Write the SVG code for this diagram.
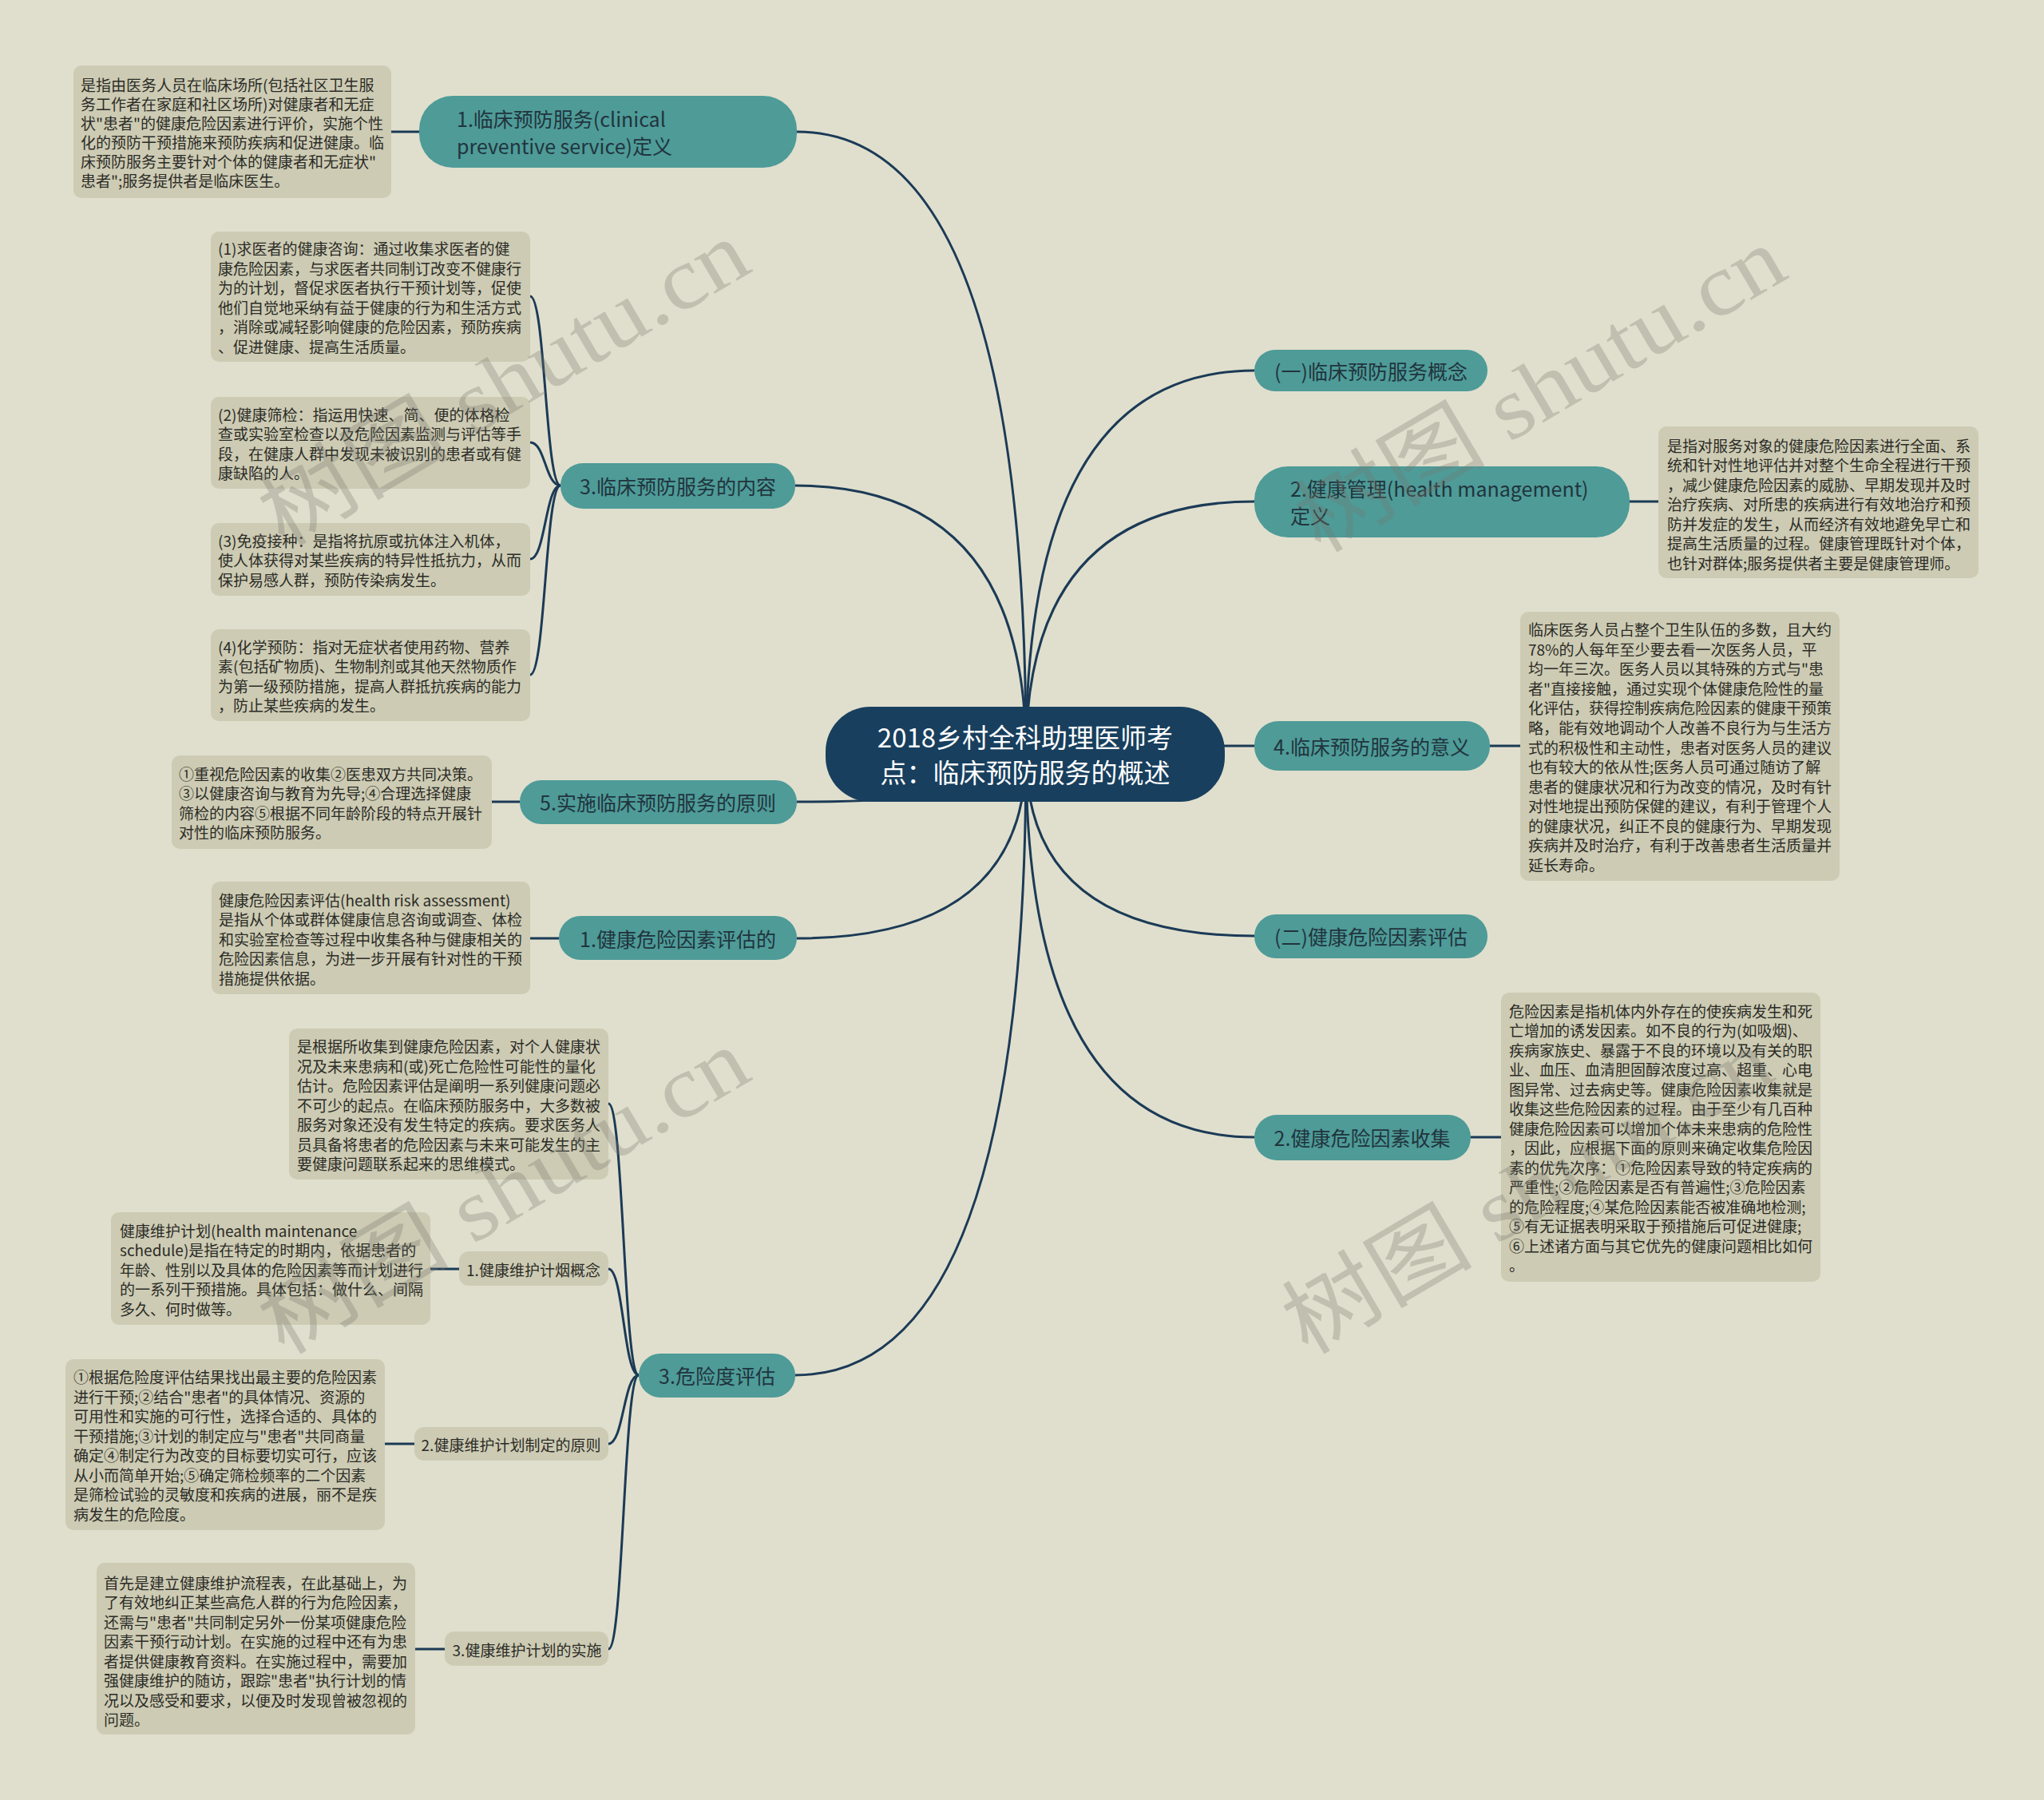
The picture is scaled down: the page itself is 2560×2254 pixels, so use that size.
<svg xmlns="http://www.w3.org/2000/svg" width="2560" height="2254" viewBox="0 0 2560 2254">
<style>
.bg{fill:#e0dfcd}
.note rect{fill:#cdcbb3}
.note text{font-family:"Noto Sans CJK SC","Liberation Sans",sans-serif;font-size:19px;fill:#2b2b27;dominant-baseline:central}
.t1 rect{fill:#4e9b98}
.t1 text{font-family:"Noto Sans CJK SC","Liberation Sans",sans-serif;font-size:25px;fill:#21343d;dominant-baseline:central}
.sub rect{fill:#cdcbb3}
.sub text{font-family:"Noto Sans CJK SC","Liberation Sans",sans-serif;font-size:19px;fill:#2b2b27;dominant-baseline:central;text-anchor:middle}
.mid{text-anchor:middle}
.root rect{fill:#183f5e}
.root text{font-family:"Noto Sans CJK SC","Liberation Sans",sans-serif;font-size:33px;fill:#ffffff;dominant-baseline:central;text-anchor:middle}
#links path{fill:none;stroke:#1b3a56;stroke-width:3}
.wm{font-family:"Liberation Serif","Noto Sans CJK SC",serif;font-size:110px;fill:#77776c;fill-opacity:0.3}
</style>
<rect class="bg" x="0" y="0" width="2560" height="2254"/>
<g id="links">
<path d="M1285,944 Q1285,165 998,165"/>
<path d="M1285,944 Q1285,608 996,608"/>
<path d="M1285,944 Q1285,1004 998,1004"/>
<path d="M1285,944 Q1285,1175 998,1175"/>
<path d="M1285,944 Q1285,1722 996,1722"/>
<path d="M1285,944 Q1285,464 1571,464"/>
<path d="M1285,944 Q1285,628 1571,628"/>
<path d="M1285,944 Q1285,934 1571,934"/>
<path d="M1285,944 Q1285,1172 1571,1172"/>
<path d="M1285,944 Q1285,1424 1571,1424"/>
<path d="M525,165 H490"/>
<path d="M2041,628 H2077"/>
<path d="M1866,934 H1904"/>
<path d="M1842,1424 H1880"/>
<path d="M651,1004 H616"/>
<path d="M700,1175 H664"/>
<path d="M575,1589 H539"/>
<path d="M519,1808 H482"/>
<path d="M557,2065 H520"/>
<path d="M702,608 C683,608 683,371 664,371"/>
<path d="M702,608 C683,608 683,554 664,554"/>
<path d="M702,608 C683,608 683,700 664,700"/>
<path d="M702,608 C683,608 683,845 664,845"/>
<path d="M800,1722 C781,1722 781,1382 762,1382"/>
<path d="M800,1722 C781,1722 781,1589 762,1589"/>
<path d="M800,1722 C781,1722 781,1808 762,1808"/>
<path d="M800,1722 C781,1722 781,2065 762,2065"/>
</g>
<g id="root" class="root">
<rect x="1034" y="885" width="500" height="119" rx="56"/>
<text x="1284" y="922">2018乡村全科助理医师考</text>
<text x="1284" y="966">点：临床预防服务的概述</text>
</g>
<g id="n-def" class="t1">
<rect x="525" y="120" width="473" height="90" rx="42"/>
<text x="572" y="148">1.临床预防服务(clinical</text>
<text x="572" y="182">preventive service)定义</text>
</g>
<g id="n-concept" class="t1">
<rect x="1571" y="438" width="292" height="52" rx="26"/>
<text class="mid" x="1717" y="464">(一)临床预防服务概念</text>
</g>
<g id="n-hm" class="t1">
<rect x="1571" y="584" width="470" height="89" rx="42"/>
<text x="1616" y="611">2.健康管理(health management)</text>
<text x="1616" y="645">定义</text>
</g>
<g id="n-meaning" class="t1">
<rect x="1571" y="903" width="295" height="62" rx="30"/>
<text class="mid" x="1718" y="934">4.临床预防服务的意义</text>
</g>
<g id="n-eval" class="t1">
<rect x="1571" y="1145" width="292" height="55" rx="27"/>
<text class="mid" x="1717" y="1172">(二)健康危险因素评估</text>
</g>
<g id="n-collect" class="t1">
<rect x="1571" y="1396" width="271" height="57" rx="28"/>
<text class="mid" x="1706" y="1424">2.健康危险因素收集</text>
</g>
<g id="n-content" class="t1">
<rect x="702" y="580" width="294" height="57" rx="28"/>
<text class="mid" x="849" y="608">3.临床预防服务的内容</text>
</g>
<g id="n-principle" class="t1">
<rect x="651" y="977" width="347" height="55" rx="27"/>
<text class="mid" x="824" y="1004">5.实施临床预防服务的原则</text>
</g>
<g id="n-hra" class="t1">
<rect x="700" y="1147" width="298" height="55" rx="27"/>
<text class="mid" x="849" y="1175">1.健康危险因素评估的</text>
</g>
<g id="n-risk" class="t1">
<rect x="800" y="1695" width="196" height="55" rx="27"/>
<text class="mid" x="898" y="1722">3.危险度评估</text>
</g>
<g id="s-1" class="sub">
<rect x="575" y="1567" width="187" height="43" rx="12"/>
<text x="668" y="1589">1.健康维护计烟概念</text>
</g>
<g id="s-2" class="sub">
<rect x="519" y="1787" width="243" height="42" rx="12"/>
<text x="640" y="1808">2.健康维护计划制定的原则</text>
</g>
<g id="s-3" class="sub">
<rect x="557" y="2043" width="205" height="43" rx="12"/>
<text x="660" y="2065">3.健康维护计划的实施</text>
</g>
<g id="note-a" class="note">
<rect x="92" y="82" width="398" height="166" rx="10"/>
<text x="101" y="105">是指由医务人员在临床场所(包括社区卫生服</text>
<text x="101" y="129">务工作者在家庭和社区场所)对健康者和无症</text>
<text x="101" y="153">状"患者"的健康危险因素进行评价，实施个性</text>
<text x="101" y="177">化的预防干预措施来预防疾病和促进健康。临</text>
<text x="101" y="201">床预防服务主要针对个体的健康者和无症状"</text>
<text x="101" y="225">患者";服务提供者是临床医生。</text>
</g>
<g id="note-b" class="note">
<rect x="264" y="290" width="400" height="163" rx="10"/>
<text x="273" y="310">(1)求医者的健康咨询：通过收集求医者的健</text>
<text x="273" y="335">康危险因素，与求医者共同制订改变不健康行</text>
<text x="273" y="359">为的计划，督促求医者执行干预计划等，促使</text>
<text x="273" y="384">他们自觉地采纳有益于健康的行为和生活方式</text>
<text x="273" y="408">，消除或减轻影响健康的危险因素，预防疾病</text>
<text x="273" y="433">、促进健康、提高生活质量。</text>
</g>
<g id="note-c" class="note">
<rect x="264" y="497" width="400" height="115" rx="10"/>
<text x="273" y="518">(2)健康筛检：指运用快速、简、便的体格检</text>
<text x="273" y="542">查或实验室检查以及危险因素监测与评估等手</text>
<text x="273" y="567">段，在健康人群中发现未被识别的患者或有健</text>
<text x="273" y="591">康缺陷的人。</text>
</g>
<g id="note-d" class="note">
<rect x="264" y="655" width="400" height="91" rx="10"/>
<text x="273" y="676">(3)免疫接种：是指将抗原或抗体注入机体，</text>
<text x="273" y="700">使人体获得对某些疾病的特异性抵抗力，从而</text>
<text x="273" y="725">保护易感人群，预防传染病发生。</text>
</g>
<g id="note-e" class="note">
<rect x="264" y="788" width="400" height="115" rx="10"/>
<text x="273" y="809">(4)化学预防：指对无症状者使用药物、营养</text>
<text x="273" y="833">素(包括矿物质)、生物制剂或其他天然物质作</text>
<text x="273" y="858">为第一级预防措施，提高人群抵抗疾病的能力</text>
<text x="273" y="882">，防止某些疾病的发生。</text>
</g>
<g id="note-f" class="note">
<rect x="215" y="946" width="401" height="117" rx="10"/>
<text x="224" y="968">①重视危险因素的收集②医患双方共同决策。</text>
<text x="224" y="992">③以健康咨询与教育为先导;④合理选择健康</text>
<text x="224" y="1017">筛检的内容⑤根据不同年龄阶段的特点开展针</text>
<text x="224" y="1041">对性的临床预防服务。</text>
</g>
<g id="note-g" class="note">
<rect x="265" y="1104" width="399" height="141" rx="10"/>
<text x="274" y="1126">健康危险因素评估(health risk assessment)</text>
<text x="274" y="1150">是指从个体或群体健康信息咨询或调查、体检</text>
<text x="274" y="1175">和实验室检查等过程中收集各种与健康相关的</text>
<text x="274" y="1199">危险因素信息，为进一步开展有针对性的干预</text>
<text x="274" y="1224">措施提供依据。</text>
</g>
<g id="note-h" class="note">
<rect x="362" y="1288" width="400" height="189" rx="10"/>
<text x="372" y="1309">是根据所收集到健康危险因素，对个人健康状</text>
<text x="372" y="1334">况及未来患病和(或)死亡危险性可能性的量化</text>
<text x="372" y="1358">估计。危险因素评估是阐明一系列健康问题必</text>
<text x="372" y="1383">不可少的起点。在临床预防服务中，大多数被</text>
<text x="372" y="1407">服务对象还没有发生特定的疾病。要求医务人</text>
<text x="372" y="1432">员具备将患者的危险因素与未来可能发生的主</text>
<text x="372" y="1456">要健康问题联系起来的思维模式。</text>
</g>
<g id="note-i" class="note">
<rect x="139" y="1518" width="400" height="141" rx="10"/>
<text x="150" y="1540">健康维护计划(health maintenance</text>
<text x="150" y="1564">schedule)是指在特定的时期内，依据患者的</text>
<text x="150" y="1589">年龄、性别以及具体的危险因素等而计划进行</text>
<text x="150" y="1613">的一系列干预措施。具体包括：做什么、间隔</text>
<text x="150" y="1638">多久、何时做等。</text>
</g>
<g id="note-j" class="note">
<rect x="82" y="1702" width="400" height="214" rx="10"/>
<text x="92" y="1723">①根据危险度评估结果找出最主要的危险因素</text>
<text x="92" y="1748">进行干预;②结合"患者"的具体情况、资源的</text>
<text x="92" y="1772">可用性和实施的可行性，选择合适的、具体的</text>
<text x="92" y="1797">干预措施;③计划的制定应与"患者"共同商量</text>
<text x="92" y="1821">确定④制定行为改变的目标要切实可行，应该</text>
<text x="92" y="1846">从小而简单开始;⑤确定筛检频率的二个因素</text>
<text x="92" y="1870">是筛检试验的灵敏度和疾病的进展，丽不是疾</text>
<text x="92" y="1895">病发生的危险度。</text>
</g>
<g id="note-k" class="note">
<rect x="121" y="1957" width="399" height="215" rx="10"/>
<text x="130" y="1981">首先是建立健康维护流程表，在此基础上，为</text>
<text x="130" y="2005">了有效地纠正某些高危人群的行为危险因素，</text>
<text x="130" y="2030">还需与"患者"共同制定另外一份某项健康危险</text>
<text x="130" y="2054">因素干预行动计划。在实施的过程中还有为患</text>
<text x="130" y="2079">者提供健康教育资料。在实施过程中，需要加</text>
<text x="130" y="2103">强健康维护的随访，跟踪"患者"执行计划的情</text>
<text x="130" y="2128">况以及感受和要求，以便及时发现曾被忽视的</text>
<text x="130" y="2152">问题。</text>
</g>
<g id="note-l" class="note">
<rect x="2077" y="534" width="401" height="190" rx="10"/>
<text x="2088" y="557">是指对服务对象的健康危险因素进行全面、系</text>
<text x="2088" y="581">统和针对性地评估并对整个生命全程进行干预</text>
<text x="2088" y="606">，减少健康危险因素的威胁、早期发现并及时</text>
<text x="2088" y="630">治疗疾病、对所患的疾病进行有效地治疗和预</text>
<text x="2088" y="655">防并发症的发生，从而经济有效地避免早亡和</text>
<text x="2088" y="679">提高生活质量的过程。健康管理既针对个体，</text>
<text x="2088" y="704">也针对群体;服务提供者主要是健康管理师。</text>
</g>
<g id="note-m" class="note">
<rect x="1904" y="766" width="400" height="337" rx="10"/>
<text x="1914" y="787">临床医务人员占整个卫生队伍的多数，且大约</text>
<text x="1914" y="812">78%的人每年至少要去看一次医务人员，平</text>
<text x="1914" y="836">均一年三次。医务人员以其特殊的方式与"患</text>
<text x="1914" y="861">者"直接接触，通过实现个体健康危险性的量</text>
<text x="1914" y="885">化评估，获得控制疾病危险因素的健康干预策</text>
<text x="1914" y="910">略，能有效地调动个人改善不良行为与生活方</text>
<text x="1914" y="935">式的积极性和主动性，患者对医务人员的建议</text>
<text x="1914" y="959">也有较大的依从性;医务人员可通过随访了解</text>
<text x="1914" y="984">患者的健康状况和行为改变的情况，及时有针</text>
<text x="1914" y="1008">对性地提出预防保健的建议，有利于管理个人</text>
<text x="1914" y="1033">的健康状况，纠正不良的健康行为、早期发现</text>
<text x="1914" y="1057">疾病并及时治疗，有利于改善患者生活质量并</text>
<text x="1914" y="1082">延长寿命。</text>
</g>
<g id="note-n" class="note">
<rect x="1880" y="1243" width="400" height="362" rx="10"/>
<text x="1890" y="1265">危险因素是指机体内外存在的使疾病发生和死</text>
<text x="1890" y="1289">亡增加的诱发因素。如不良的行为(如吸烟)、</text>
<text x="1890" y="1314">疾病家族史、暴露于不良的环境以及有关的职</text>
<text x="1890" y="1338">业、血压、血清胆固醇浓度过高、超重、心电</text>
<text x="1890" y="1363">图异常、过去病史等。健康危险因素收集就是</text>
<text x="1890" y="1387">收集这些危险因素的过程。由于至少有几百种</text>
<text x="1890" y="1412">健康危险因素可以增加个体未来患病的危险性</text>
<text x="1890" y="1436">，因此，应根据下面的原则来确定收集危险因</text>
<text x="1890" y="1461">素的优先次序：①危险因素导致的特定疾病的</text>
<text x="1890" y="1485">严重性;②危险因素是否有普遍性;③危险因素</text>
<text x="1890" y="1510">的危险程度;④某危险因素能否被准确地检测;</text>
<text x="1890" y="1534">⑤有无证据表明采取于预措施后可促进健康;</text>
<text x="1890" y="1559">⑥上述诸方面与其它优先的健康问题相比如何</text>
<text x="1890" y="1583">。</text>
</g>
<g id="watermarks">
<text class="wm" x="355" y="686" transform="rotate(-30.5 355 686)" textLength="685" lengthAdjust="spacingAndGlyphs">树图 shutu.cn</text>
<text class="wm" x="1653" y="694" transform="rotate(-30.5 1653 694)" textLength="685" lengthAdjust="spacingAndGlyphs">树图 shutu.cn</text>
<text class="wm" x="355" y="1698" transform="rotate(-30.5 355 1698)" textLength="685" lengthAdjust="spacingAndGlyphs">树图 shutu.cn</text>
<text class="wm" x="1637" y="1698" transform="rotate(-30.5 1637 1698)" textLength="685" lengthAdjust="spacingAndGlyphs">树图 shutu.cn</text>
</g>
</svg>
